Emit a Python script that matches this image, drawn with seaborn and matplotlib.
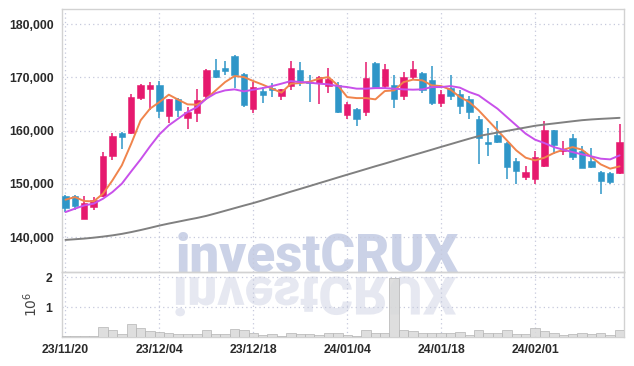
import numpy as np
import pandas as pd
import seaborn as sns
import matplotlib.pyplot as plt
from matplotlib.font_manager import FontProperties
from matplotlib.textpath import TextPath
from matplotlib.patches import PathPatch
from matplotlib.transforms import Affine2D

# x tick labels (one every 10 trading days)
tick_labels = ['23/11/20', '23/12/04', '23/12/18', '24/01/04', '24/01/18', '24/02/01']

# daily candles
opens = [147630, 147630, 143450, 145630, 147750, 155200, 159600, 159520, 166090, 167790,
         168540, 162780, 165920, 162400, 163340, 166390, 171400, 171650, 174040, 170600,
         164040, 167420, 167920, 166540, 168420, 171400, 169110, 168860, 168420, 168540,
         162900, 164040, 163530, 172730, 168420, 168540, 166540, 169990, 170790, 169480,
         165110, 168040, 166860, 165860, 162230, 157830, 159080, 157640, 154260, 151260,
         150880, 153270, 160030, 156140, 158580, 156080, 154200, 152290, 152100, 152040]
highs = [147800, 147800, 147630, 147500, 155950, 159520, 159800, 166780, 168800, 169180,
         169290, 166000, 166100, 164470, 167730, 171590, 173380, 173050, 174180, 170850,
         169050, 168230, 168980, 167800, 173050, 172860, 170420, 170290, 171680, 169100,
         165400, 164200, 172920, 172800, 172490, 170420, 171040, 173050, 170900, 172170,
         167600, 170420, 167600, 166550, 162720, 160440, 161840, 157800, 154890, 153320,
         156140, 161840, 160100, 158020, 159410, 157020, 156700, 152400, 152200, 161240]
lows = [144690, 145000, 143400, 145000, 147600, 154530, 156590, 159400, 165650, 163870,
        162410, 161340, 162600, 160220, 161530, 166140, 169900, 170420, 167920, 164470,
        163230, 165110, 166240, 165730, 167600, 168360, 165300, 164980, 167100, 163230,
        162080, 160850, 162720, 168100, 167920, 164170, 165730, 169620, 166980, 164780,
        164350, 165790, 163100, 162220, 153700, 155150, 157700, 150960, 149890, 150640,
        150020, 153200, 155520, 155460, 154510, 152900, 153000, 148140, 149890, 151900]
closes = [145440, 145750, 146450, 146890, 155280, 158960, 158770, 166220, 168480, 168480,
          163660, 165920, 163860, 163530, 165670, 171400, 169960, 171270, 170480, 164780,
          168110, 166670, 167600, 167730, 171740, 169270, 168920, 169990, 169620, 163530,
          164970, 162220, 169860, 168220, 171550, 165920, 169990, 171490, 167600, 165110,
          166860, 166540, 164660, 163530, 158580, 157530, 157830, 153130, 152380, 152190,
          154960, 160160, 157210, 156590, 155120, 152940, 153130, 150600, 150320, 157830]

# moving averages as drawn
ma_short = [147010, 147500, 146750, 146700, 148140, 150640, 153460, 157530, 161910, 164100,
            165340, 166730, 165790, 164910, 164850, 165980, 167540, 169100, 170230, 170040,
            169290, 168610, 167860, 167110, 168800, 168910, 169170, 169740, 170040, 168480,
            166280, 166090, 166090, 165850, 167410, 167540, 169100, 169550, 169420, 168480,
            168350, 167670, 166280, 165340, 163780, 161910, 160030, 158150, 156270, 154900,
            154390, 154900, 155770, 156400, 156890, 156400, 155010, 153640, 152840, 153270]
ma_mid = [144690, 145320, 145940, 146260, 147200, 148440, 150020, 152330, 154580, 157020,
          159280, 160970, 162230, 163470, 164400, 165980, 167030, 167540, 167730, 167350,
          167670, 167970, 168350, 168800, 169290, 169100, 168990, 168800, 168670, 168350,
          168160, 167860, 167860, 167970, 167970, 167860, 167730, 167670, 167730, 168160,
          168160, 168350, 168050, 167220, 166600, 165340, 164100, 162530, 160970, 159410,
          158280, 157640, 156890, 156400, 155950, 155520, 155150, 154710, 154580, 155330]
ma_long = [139460, 139580, 139710, 139880, 140080, 140310, 140590, 140930, 141310, 141720,
           142150, 142530, 142880, 143240, 143580, 143970, 144440, 144930, 145420, 145910,
           146380, 146900, 147450, 147970, 148520, 149040, 149570, 150110, 150640, 151180,
           151710, 152230, 152760, 153290, 153790, 154320, 154850, 155370, 155880, 156400,
           156930, 157440, 157960, 158470, 158960, 159300, 159620, 159930, 160250, 160570,
           160890, 161120, 161320, 161530, 161740, 161940, 162080, 162190, 162280, 162380]

# volume in millions of shares
volume = [0.05, 0.03, 0.03, 0.03, 0.32, 0.23, 0.10, 0.42, 0.29, 0.20,
          0.17, 0.12, 0.10, 0.10, 0.10, 0.23, 0.10, 0.10, 0.27, 0.23,
          0.12, 0.07, 0.09, 0.03, 0.12, 0.10, 0.10, 0.07, 0.12, 0.12,
          0.06, 0.03, 0.23, 0.12, 0.12, 1.96, 0.23, 0.20, 0.14, 0.12,
          0.12, 0.13, 0.16, 0.07, 0.23, 0.14, 0.13, 0.23, 0.10, 0.10,
          0.29, 0.20, 0.12, 0.07, 0.10, 0.12, 0.10, 0.12, 0.08, 0.23]

df = pd.DataFrame({'open': opens, 'high': highs, 'low': lows, 'close': closes,
                   'ma_short': ma_short, 'ma_mid': ma_mid, 'ma_long': ma_long,
                   'volume': volume})
df['idx'] = np.arange(len(df))

UP = '#e6196e'
DOWN = '#2f96c8'
GRID = '#c6c9dc'
SPINE = '#d2d2d2'

sns.set_style('white')
plt.rcParams['font.family'] = ['Liberation Sans', 'DejaVu Sans']

fig = plt.figure(figsize=(6.34, 3.66), dpi=100)
ax = fig.add_axes([0.0978, 0.2568, 0.8864, 0.7186])
axv = fig.add_axes([0.0978, 0.0792, 0.8864, 0.1776], sharex=ax)
for a in (ax, axv):
    a.set_facecolor('none')
    a.set_zorder(1)

# watermark + reflection behind everything
fp = FontProperties(family='Roboto', weight='black', size=38)
wm = fig.text(0.5, 94 / 366, 'investCRUX', fontproperties=fp, color='#cbd2e7',
              ha='center', va='baseline', zorder=-1)
fig.canvas.draw()
bb = wm.get_window_extent()
tp = TextPath((0, 0), 'investCRUX', prop=fp)
s = fig.dpi / 72
tb = tp.get_extents()
tr = Affine2D().scale(s, -s).translate(bb.x0 - tb.x0 * s, 94 - 5)
refl = PathPatch(tp, transform=tr, facecolor='#e6e8f1', edgecolor='none', zorder=-1)
fig.add_artist(refl)

# candles
up = df['close'] >= df['open']
colors = np.where(up, UP, DOWN)
ax.vlines(df['idx'], df['low'], df['high'], colors=colors, linewidth=1.1, zorder=3)
body_lo = df[['open', 'close']].min(axis=1)
body_h = (df['close'] - df['open']).abs().clip(lower=150)
ax.bar(df['idx'], body_h, bottom=body_lo, width=0.68, color=colors,
       edgecolor=colors, linewidth=0.4, zorder=4)

sns.lineplot(x='idx', y='ma_short', data=df, ax=ax, color='#f0844c', linewidth=1.4, zorder=5)
sns.lineplot(x='idx', y='ma_mid', data=df, ax=ax, color='#c850ea', linewidth=1.4, zorder=5)
sns.lineplot(x='idx', y='ma_long', data=df, ax=ax, color='#808080', linewidth=1.4, zorder=5)

ax.set_xlim(-0.37, 59.47)
ax.set_ylim(133430, 182820)
ax.set_yticks([140000, 150000, 160000, 170000, 180000])
ax.set_yticklabels(['{:,}'.format(v) for v in [140000, 150000, 160000, 170000, 180000]])
ax.set_xlabel('')
ax.set_ylabel('')
ax.tick_params(axis='x', labelbottom=False, length=0)
ax.tick_params(axis='y', length=0, pad=6, labelsize=8.8, labelcolor='#2a2a2a')
for lbl in ax.get_yticklabels():
    lbl.set_fontweight('bold')

# volume
axv.bar(df['idx'], df['volume'], width=1.0, color='#d9d9d9', edgecolor='#b5b5b5',
        linewidth=0.6, alpha=0.85, zorder=3)
axv.set_ylim(0, 2.17)
axv.set_yticks([1, 2])
axv.set_yticklabels(['1', '2'])
axv.set_ylabel('$10^6$', fontsize=10, color='#444444', family='DejaVu Sans', labelpad=4)
tick_pos = list(range(0, len(df), 10))
axv.set_xticks(tick_pos)
axv.set_xticklabels(tick_labels)
axv.tick_params(axis='both', length=0, labelsize=8.8, labelcolor='#2a2a2a')
axv.tick_params(axis='x', pad=5)
axv.tick_params(axis='y', pad=7)
for lbl in axv.get_xticklabels() + axv.get_yticklabels():
    lbl.set_fontweight('bold')

for a in (ax, axv):
    a.grid(True, color=GRID, linestyle=(0, (1, 2.5)), linewidth=0.9)
    for sp in a.spines.values():
        sp.set_color(SPINE)
        sp.set_linewidth(1.0)

fig.savefig('out.png', dpi=100, facecolor='white')
